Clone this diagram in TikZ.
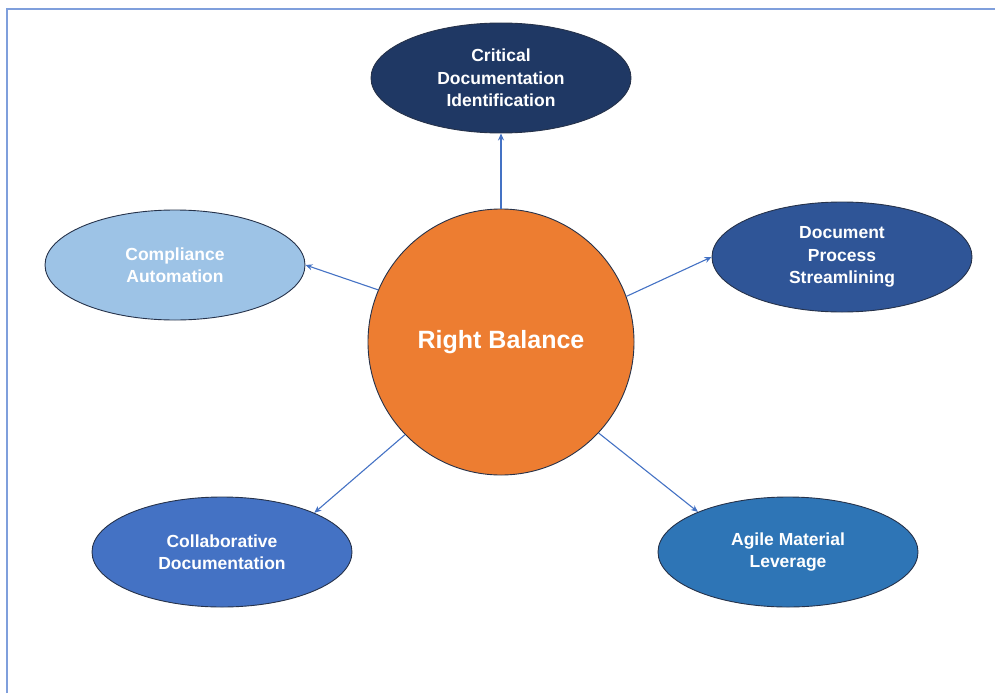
\documentclass[tikz,border=0pt]{standalone}
\usepackage{fontspec}
\setmainfont{Liberation Sans}
\usetikzlibrary{shapes.geometric,arrows.meta}
\definecolor{navy}{HTML}{1F3864}
\definecolor{lightb}{HTML}{9DC3E6}
\definecolor{midb}{HTML}{2F5597}
\definecolor{accb}{HTML}{4472C4}
\definecolor{steelb}{HTML}{2E75B6}
\definecolor{orangec}{HTML}{ED7D31}
\definecolor{edgec}{HTML}{26324A}
\definecolor{framec}{HTML}{7F9FDC}
\tikzset{
  bubble/.style={ellipse, draw=edgec, line width=0.9pt, minimum width=260pt, minimum height=110pt,
    inner sep=0pt, text=white, align=center, font=\fontsize{17.5pt}{22.5pt}\selectfont\bfseries},
  hub/.style={circle, draw=edgec, line width=0.9pt, fill=orangec, minimum size=266pt, inner sep=0pt,
    text=white, font=\fontsize{25pt}{30pt}\selectfont\bfseries},
  link/.style={draw=accb, line width=1.1pt, -{Stealth[length=7pt,width=6pt]}},
  frameline/.style={draw=framec, line width=1.6pt}
}
\begin{document}
\begin{tikzpicture}[x=1pt,y=-1pt]
\useasboundingbox (0,0) rectangle (995,693);
\coordinate (fa) at (7,693);
\coordinate (fb) at (7,9);
\coordinate (fc) at (995,9);
\draw[frameline] (fa) -- (fb) -- (fc);
\node[hub] (c) at (501,342) {Right Balance};
\node[bubble, fill=navy] (t) at (501,78) {Critical\\Documentation\\Identification};
\node[bubble, fill=lightb] (l) at (175,265) {Compliance\\Automation};
\node[bubble, fill=midb] (r) at (842,257) {Document\\Process\\Streamlining};
\node[bubble, fill=accb] (bl) at (222,552) {Collaborative\\Documentation};
\node[bubble, fill=steelb] (br) at (788,552) {Agile Material\\Leverage};
\draw[link] (c.north) -- (t.south);
\draw[link] (c.157) -- (l.east);
\draw[link] (c.20) -- (r.west);
\draw[link] (c.224) -- (bl.23);
\draw[link] (c.-43) -- (br.156);
\end{tikzpicture}
\end{document}
